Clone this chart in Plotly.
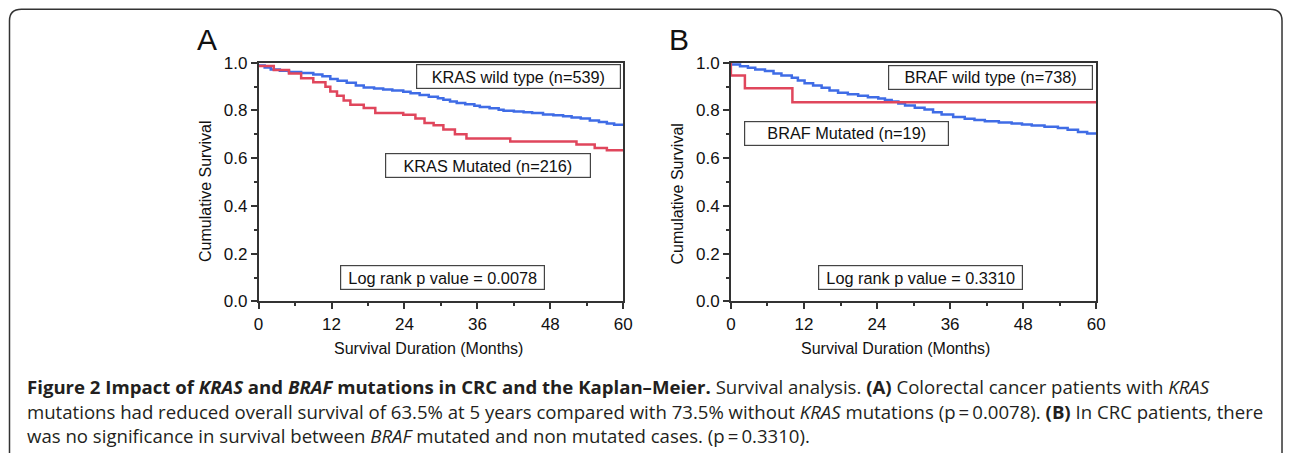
import plotly.graph_objects as go

# ---------------- data ----------------
x_ticks = [0, 12, 24, 36, 48, 60]
y_ticks = [0.0, 0.2, 0.4, 0.6, 0.8, 1.0]
y_tick_text = ["0.0", "0.2", "0.4", "0.6", "0.8", "1.0"]

# Panel A: KRAS
kras_wt_months = [0, 1, 2, 3.5, 5, 7, 9, 10.5, 11.8, 13, 14.5, 16, 17.3, 19, 20.5, 22,
                  23.8, 25, 26.5, 28, 29.5, 30.4, 31.5, 32.6, 34, 35.5, 36.4, 38, 39.5,
                  40.3, 42, 43.6, 45, 46.8, 48.5, 50.1, 51.5, 53, 54.5, 56, 57.3, 58.5, 60]
kras_wt_surv = [0.988, 0.980, 0.972, 0.966, 0.961, 0.957, 0.951, 0.944, 0.932, 0.925,
                0.916, 0.905, 0.896, 0.892, 0.888, 0.884, 0.879, 0.872, 0.865, 0.858,
                0.851, 0.845, 0.838, 0.831, 0.826, 0.820, 0.815, 0.809, 0.803, 0.799,
                0.796, 0.793, 0.789, 0.783, 0.780, 0.776, 0.771, 0.766, 0.758, 0.752,
                0.745, 0.740, 0.736]

kras_mut_months = [0, 2.5, 5, 7, 9, 11, 11.8, 12.9, 14, 15.1, 17.3, 19.2, 23.8, 25.8,
                   27.3, 28.8, 30.4, 32.3, 34.2, 41.4, 52.3, 55.3, 57.3, 60]
kras_mut_surv = [0.986, 0.970, 0.955, 0.935, 0.918, 0.900, 0.880, 0.862, 0.842, 0.824,
                 0.810, 0.790, 0.782, 0.766, 0.748, 0.738, 0.720, 0.700, 0.683, 0.670,
                 0.657, 0.643, 0.633, 0.633]

# Panel B: BRAF
braf_wt_months = [0, 1.5, 2.8, 4, 5.6, 7, 8.3, 10, 11, 12.1, 13.5, 14.9, 16.2, 17.6,
                  19.2, 20.9, 22.5, 24.2, 25.3, 26.4, 27.5, 28.6, 30.2, 31.8, 33.2, 34.6,
                  36.5, 38.4, 40, 41.7, 44, 46.1, 47.8, 49.4, 51.5, 53.7, 55.3, 57, 58.5, 60]
braf_wt_surv = [0.993, 0.985, 0.979, 0.972, 0.965, 0.955, 0.947, 0.937, 0.926, 0.914,
                0.905, 0.895, 0.884, 0.874, 0.868, 0.862, 0.856, 0.850, 0.844, 0.838,
                0.829, 0.821, 0.812, 0.804, 0.793, 0.783, 0.773, 0.765, 0.760, 0.755,
                0.750, 0.745, 0.741, 0.737, 0.732, 0.727, 0.719, 0.710, 0.704, 0.699]

braf_mut_months = [0, 0, 2.3, 10.1, 60]
braf_mut_surv = [1.0, 0.947, 0.893, 0.835, 0.835]

label_kras_wt = "KRAS wild type (n=539)"
label_kras_mut = "KRAS Mutated (n=216)"
label_kras_p = "Log rank p value = 0.0078"
label_braf_wt = "BRAF wild type (n=738)"
label_braf_mut = "BRAF Mutated (n=19)"
label_braf_p = "Log rank p value = 0.3310"

caption_lines = [
    "<b>Figure 2 Impact of <i>KRAS</i> and <i>BRAF</i> mutations in CRC and the Kaplan\u2013Meier.</b> "
    "Survival analysis. <b>(A)</b> Colorectal cancer patients with <i>KRAS</i>",
    "mutations had reduced overall survival of 63.5% at 5 years compared with 73.5% without "
    "<i>KRAS</i> mutations (p\u2009=\u20090.0078). <b>(B)</b> In CRC patients, there",
    "was no significance in survival between <i>BRAF</i> mutated and non mutated cases. (p\u2009=\u20090.3310).",
]

# ---------------- layout helpers ----------------
W, H = 1292, 453
BLUE = "#3f6ce6"
RED = "#e0465c"
AX = "#333333"
FONT = "Liberation Sans, Arial, sans-serif"

# page -> figure placement correction (measured from the rendered output)
SX, OX = 0.990, 4.5
SY, OY = 0.957, 9.6


def px(x):
    return ((x - OX) / SX) / W


def py(y):
    return 1 - ((y - OY) / SY) / H


fig = go.Figure()

fig.add_trace(go.Scatter(x=kras_wt_months, y=kras_wt_surv, mode="lines", line_shape="hv",
                         line=dict(color=BLUE, width=2.5), xaxis="x", yaxis="y",
                         cliponaxis=False, name=label_kras_wt))
fig.add_trace(go.Scatter(x=kras_mut_months, y=kras_mut_surv, mode="lines", line_shape="hv",
                         line=dict(color=RED, width=2.5), xaxis="x", yaxis="y",
                         cliponaxis=False, name=label_kras_mut))
fig.add_trace(go.Scatter(x=braf_wt_months, y=braf_wt_surv, mode="lines", line_shape="hv",
                         line=dict(color=BLUE, width=2.5), xaxis="x2", yaxis="y2",
                         cliponaxis=False, name=label_braf_wt))
fig.add_trace(go.Scatter(x=braf_mut_months, y=braf_mut_surv, mode="lines", line_shape="hv",
                         line=dict(color=RED, width=2.5), xaxis="x2", yaxis="y2",
                         cliponaxis=False, name=label_braf_mut))

tickfont = dict(family=FONT, size=17, color="#111111")


def xaxis(domain, anchor):
    return dict(domain=domain, anchor=anchor, range=[0, 60], tickmode="array",
                tickvals=x_ticks, ticktext=[str(v) for v in x_ticks],
                ticks="outside", ticklen=6, tickwidth=1.5, tickcolor=AX,
                showline=True, linecolor=AX, linewidth=1.5, mirror=True,
                showgrid=False, zeroline=False, tickfont=tickfont,
                minor=dict(ticks="outside", ticklen=3, tickwidth=1.5, tickcolor=AX,
                           tick0=0, dtick=6, showgrid=False),
                fixedrange=True)


def yaxis(domain, anchor):
    return dict(domain=domain, anchor=anchor, range=[0, 1], tickmode="array",
                tickvals=y_ticks, ticktext=y_tick_text,
                ticks="outside", ticklen=6, tickwidth=1.5, tickcolor=AX,
                showline=True, linecolor=AX, linewidth=1.5, mirror=True,
                showgrid=False, zeroline=False, tickfont=tickfont,
                minor=dict(ticks="outside", ticklen=3, tickwidth=1.5, tickcolor=AX,
                           tick0=0, dtick=0.1, showgrid=False),
                fixedrange=True)


ydom = [py(301.7), py(63.3)]
fig.update_layout(
    width=W, height=H,
    margin=dict(l=0, r=0, t=0, b=0),
    paper_bgcolor="white", plot_bgcolor="white",
    showlegend=False,
    xaxis=xaxis([px(258.3), px(623.3)], "y"),
    yaxis=yaxis(ydom, "x"),
    xaxis2=xaxis([px(731), px(1096.7)], "y2"),
    yaxis2=yaxis(ydom, "x2"),
)

annotations = []


def box(text, x0, x1, y0, y1):
    annotations.append(dict(
        text=text, xref="paper", yref="paper", x=px((x0 + x1) / 2), y=py((y0 + y1) / 2),
        xanchor="center", yanchor="middle", showarrow=False,
        width=(x1 - x0) / SX - 4, height=(y1 - y0) / SY - 4, borderpad=1,
        bordercolor="#444444", borderwidth=1.2, bgcolor="white",
        font=dict(family=FONT, size=16.3, color="#111111")))


box(label_kras_wt, 417.7, 620, 65, 89)
box(label_kras_mut, 386.7, 590, 154, 177.7)
box(label_kras_p, 341, 544, 265.7, 289.3)
box(label_braf_wt, 889, 1091.7, 66.7, 90)
box(label_braf_mut, 745.3, 948.3, 122.7, 146)
box(label_braf_p, 819, 1022, 265.7, 289.3)

# panel letters
for letter, cx in (("A", 207), ("B", 679)):
    annotations.append(dict(text=letter, xref="paper", yref="paper", x=px(cx), y=py(40),
                            xanchor="center", yanchor="middle", showarrow=False,
                            font=dict(family=FONT, size=30, color="#111111")))

# axis titles
for cx in (428, 896):
    annotations.append(dict(text="Survival Duration (Months)", xref="paper", yref="paper",
                            x=px(cx), y=py(349), xanchor="center", yanchor="middle",
                            showarrow=False, font=dict(family=FONT, size=16, color="#111111")))
for cx, cy in ((205, 192), (678, 194)):
    annotations.append(dict(text="Cumulative Survival", xref="paper", yref="paper",
                            x=px(cx), y=py(cy), xanchor="center", yanchor="middle",
                            textangle=-90, showarrow=False,
                            font=dict(family=FONT, size=16, color="#111111")))

# caption
for i, line in enumerate(caption_lines):
    annotations.append(dict(text=line, xref="paper", yref="paper", x=px(25),
                            y=py(387 + 24.5 * i), xanchor="left", yanchor="middle",
                            showarrow=False, align="left",
                            font=dict(family="Open Sans, sans-serif", size=18.6, color="#231f20")))

fig.update_layout(annotations=annotations)

# outer rounded frame
r = 12
x0, y0, x1 = px(9), py(9.8), min(px(1290.5), 1291 / W)
rx, ry = r / W, r / H
path = (f"M {x0},{py(470)} L {x0},{y0 - ry} Q {x0},{y0} {x0 + rx},{y0} "
        f"L {x1 - rx},{y0} Q {x1},{y0} {x1},{y0 - ry} L {x1},{py(470)}")
fig.add_shape(type="path", path=path, xref="paper", yref="paper",
              line=dict(color="#333333", width=1.5))

fig.write_html(
    "out.html",
    config={"displayModeBar": False},
    post_script=("document.body.style.margin='0';"
                 "document.body.style.overflow='hidden';"
                 "document.documentElement.style.overflow='hidden';"),
)
